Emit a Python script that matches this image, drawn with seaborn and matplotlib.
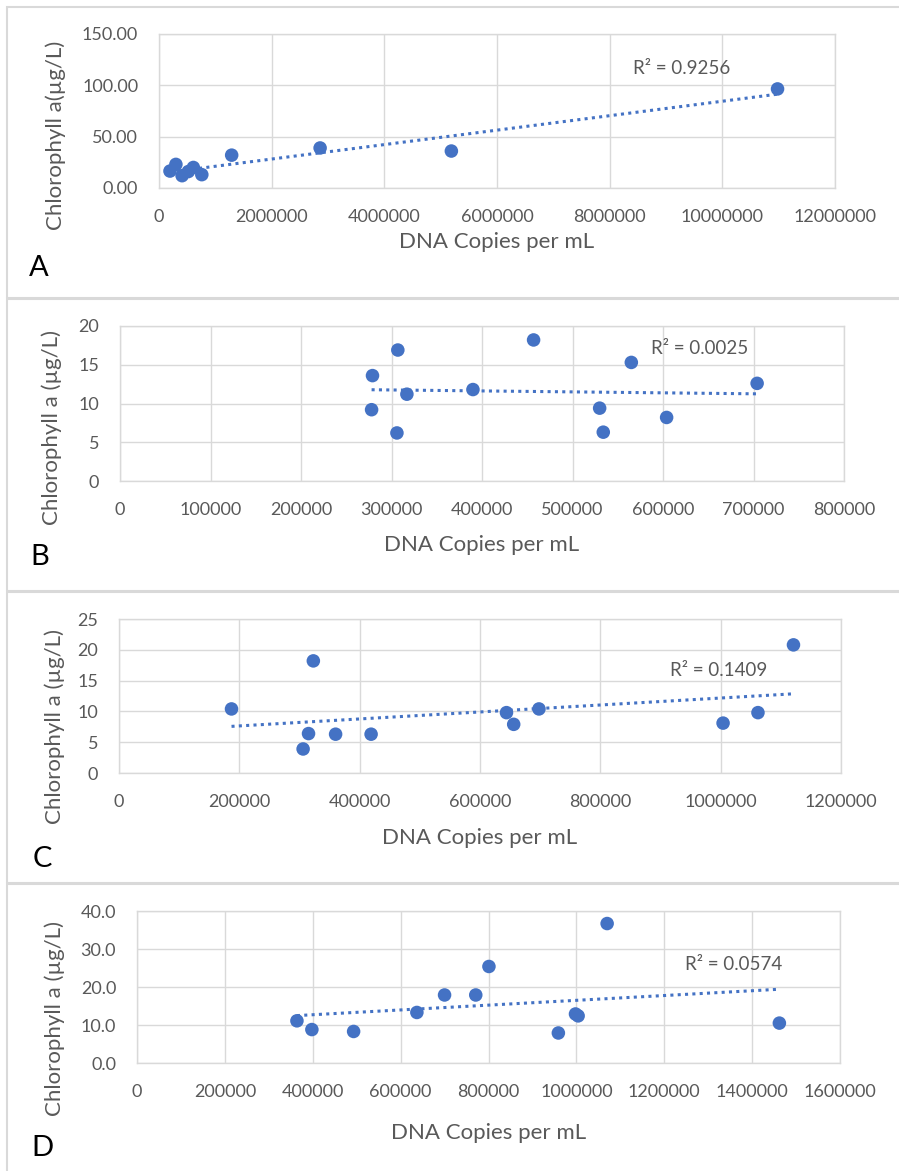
import matplotlib
matplotlib.use("Agg")
import matplotlib.pyplot as plt
from matplotlib.patches import Rectangle
import seaborn as sns

# ---------------- data ----------------
a_x = [195000, 300000, 410000, 520000, 610000, 760000, 1290000, 2860000, 5190000, 10980000]
a_y = [16.5, 23.0, 12.0, 16.0, 20.0, 13.0, 32.0, 39.0, 36.0, 96.5]

b_x = [279000, 278000, 307000, 306000, 317000, 390000, 457000, 530000, 534000, 565000, 604000, 704000]
b_y = [13.6, 9.2, 16.9, 6.2, 11.2, 11.8, 18.2, 9.4, 6.3, 15.3, 8.2, 12.6]

c_x = [187000, 323000, 306000, 315000, 360000, 419000, 644000, 656000, 698000, 1004000, 1062000, 1121000]
c_y = [10.4, 18.2, 3.9, 6.4, 6.3, 6.3, 9.8, 7.9, 10.4, 8.1, 9.8, 20.8]

d_x = [364000, 398000, 493000, 637000, 700000, 771000, 801000, 959000, 998000, 1004000, 1070000, 1462000]
d_y = [11.1, 8.8, 8.3, 13.3, 17.9, 17.9, 25.4, 7.9, 12.9, 12.4, 36.7, 10.5]

panel_letters = ["A", "B", "C", "D"]
r2_labels = ["R\u00b2 = 0.9256", "R\u00b2 = 0.0025", "R\u00b2 = 0.1409", "R\u00b2 = 0.0574"]
x_label = "DNA Copies per mL"
y_labels = ["Chlorophyll a(\u00b5g/L)", "Chlorophyll a (\u00b5g/L)",
            "Chlorophyll a (\u00b5g/L)", "Chlorophyll a (\u00b5g/L)"]
x_ticks = [
    [0, 2000000, 4000000, 6000000, 8000000, 10000000, 12000000],
    [0, 100000, 200000, 300000, 400000, 500000, 600000, 700000, 800000],
    [0, 200000, 400000, 600000, 800000, 1000000, 1200000],
    [0, 200000, 400000, 600000, 800000, 1000000, 1200000, 1400000, 1600000],
]
y_ticks = [
    [0, 50, 100, 150],
    [0, 5, 10, 15, 20],
    [0, 5, 10, 15, 20, 25],
    [0, 10, 20, 30, 40],
]
y_fmt = ["{:.2f}", "{:.0f}", "{:.0f}", "{:.1f}"]

# ---------------- style ----------------
sns.set_style("white")
plt.rcParams["font.family"] = ["Lato", "DejaVu Sans"]

W, H = 899, 1171
fig = plt.figure(figsize=(W / 100, H / 100), dpi=100)
fig.patch.set_facecolor("white")

BLUE = "#4472C4"
GRID = "#d9d9d9"
TXT = "#595959"

# plot-area boxes in pixels: (left, right, top, bottom)
plot_boxes = [(159, 835, 34, 188), (120, 844, 326, 481), (119, 841, 619, 773), (137, 840, 911, 1063)]
# panel frames (top, bottom)
frames = [(7, 298), (299, 591), (592, 883), (884, 1172)]
letter_pos = [(39, 268), (40, 557), (42, 859), (42, 1148)]
r2_pos = [(682, 68), (700, 349), (719, 670), (734, 965)]
xlabel_y = [242, 545, 838, 1133]
ylabel_pos = [(56, 135), (52, 427), (55, 726), (55, 1019)]

datasets = [(a_x, a_y), (b_x, b_y), (c_x, c_y), (d_x, d_y)]

def fx(px):
    return px / W

def fy(py):
    return 1 - py / H

for i, ((xs, ys), (L, R, T, B)) in enumerate(zip(datasets, plot_boxes)):
    # panel frame
    top, bot = frames[i]
    fig.add_artist(Rectangle((fx(7), fy(bot)), fx(W + 20) - fx(7), fy(top) - fy(bot),
                             transform=fig.transFigure, fill=False,
                             edgecolor=GRID, linewidth=1.5))

    ax = fig.add_axes([fx(L), fy(B), fx(R) - fx(L), fy(T) - fy(B)])
    sns.regplot(x=xs, y=ys, ax=ax, ci=None, truncate=True,
                scatter_kws=dict(s=95, color=BLUE, edgecolor="none", alpha=1, zorder=3),
                line_kws=dict(color=BLUE, linewidth=2.2, linestyle=(0, (1, 1.4)), zorder=4))

    ax.set_xlim(x_ticks[i][0], x_ticks[i][-1])
    ax.set_ylim(y_ticks[i][0], y_ticks[i][-1])
    ax.set_xticks(x_ticks[i])
    ax.set_xticklabels([str(v) for v in x_ticks[i]])
    ax.set_yticks(y_ticks[i])
    ax.set_yticklabels([y_fmt[i].format(v) for v in y_ticks[i]])
    ax.tick_params(axis="both", length=0, labelsize=13, labelcolor=TXT, pad=15)
    ax.grid(True, color=GRID, linewidth=1)
    ax.set_axisbelow(True)
    for sp in ax.spines.values():
        sp.set_visible(True)
        sp.set_color(GRID)
        sp.set_linewidth(1)

    # axis titles
    ax.set_xlabel(x_label, fontsize=16, color=TXT)
    ax.xaxis.label.set_va("center")
    ax.xaxis.set_label_coords(0.5, (B - xlabel_y[i]) / (B - T))
    ax.set_ylabel(y_labels[i], fontsize=16, color=TXT)
    ax.yaxis.label.set_va("center")
    ylx, yly = ylabel_pos[i]
    ax.yaxis.set_label_coords((ylx - L) / (R - L), (B - yly) / (B - T))

    # R squared label
    fig.text(fx(r2_pos[i][0]), fy(r2_pos[i][1]), r2_labels[i], fontsize=13.5,
             color=TXT, ha="center", va="center")
    # panel letter
    fig.text(fx(letter_pos[i][0]), fy(letter_pos[i][1]), panel_letters[i], fontsize=21,
             color="black", ha="center", va="center")

fig.savefig("out.png", dpi=100, facecolor="white")
